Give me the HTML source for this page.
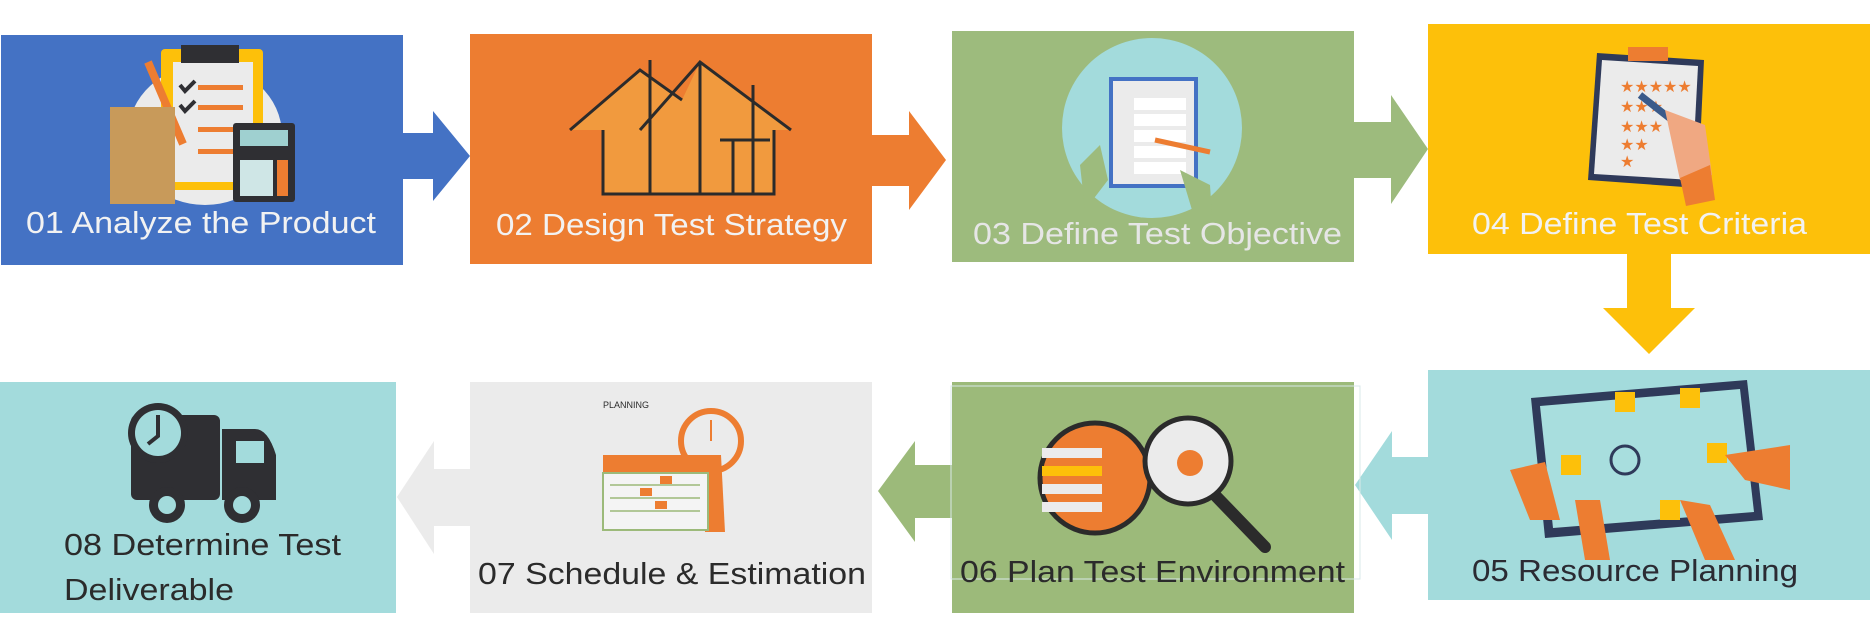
<!DOCTYPE html>
<html><head><meta charset="utf-8"><style>
html,body{margin:0;padding:0;background:#fff;}
svg{display:block;}
text{font-family:"Liberation Sans",sans-serif;font-size:31px;}
</style></head><body>
<svg width="1870" height="634" viewBox="0 0 1870 634">
<!-- arrows -->
<polygon fill="#4472c4" points="403,133 433,133 433,111 470,156 433,201 433,179 403,179"/>
<polygon fill="#ed7d31" points="872,135 909,135 909,111 946,160 909,210 909,186 872,186"/>
<polygon fill="#9dbb7d" points="1354,122 1391,122 1391,95 1428,149 1391,204 1391,178 1354,178"/>
<polygon fill="#fdc00a" points="1627,254 1671,254 1671,308 1695,308 1649,354 1603,308 1627,308"/>
<polygon fill="#a3dbdc" points="1428,457 1392,457 1392,431 1355,485 1392,540 1392,514 1428,514"/>
<polygon fill="#9cba7a" points="952,465 915,465 915,441 878,491 915,542 915,518 952,518"/>
<polygon fill="#ebebeb" points="470,469 434,469 434,441 397,497 434,554 434,526 470,526"/>

<!-- Box 1 -->
<g>
<rect x="1" y="35" width="402" height="230" fill="#4472c4"/>
<ellipse cx="205" cy="135" rx="77" ry="70" fill="#ebebeb"/>
<rect x="161" y="49" width="102" height="141" rx="4" fill="#fdc00a"/>
<rect x="173" y="62" width="80" height="120" fill="#ebebeb"/>
<rect x="181" y="45" width="58" height="18" fill="#2f2f33"/>
<rect x="198" y="85" width="45" height="5" fill="#ed7d31"/><rect x="198" y="105" width="45" height="5" fill="#ed7d31"/>
<rect x="198" y="127" width="45" height="5" fill="#ed7d31"/><rect x="198" y="149" width="45" height="5" fill="#ed7d31"/>
<path d="M180,85 l5,6 l10,-10 M180,105 l5,6 l10,-10" stroke="#2f2f33" stroke-width="4" fill="none"/>
<line x1="148" y1="62" x2="183" y2="144" stroke="#ed7d31" stroke-width="8"/>
<rect x="110" y="107" width="65" height="97" fill="#c89a5a"/>
<rect x="233" y="123" width="62" height="79" rx="3" fill="#2f2f33"/>
<rect x="240" y="130" width="48" height="16" fill="#9fd0d0"/>
<rect x="277" y="160" width="11" height="36" fill="#ed7d31"/>
<rect x="240" y="160" width="33" height="36" fill="#cfe6e6"/>
<text x="26" y="233" fill="#f2f2f2" textLength="350" lengthAdjust="spacingAndGlyphs">01 Analyze the Product</text>
</g>

<!-- Box 2 -->
<g>
<rect x="470" y="34" width="402" height="230" fill="#ed7d31"/>
<polygon points="570,130 640,70 682,100 700,62 791,130 774,130 774,194 603,194 603,130" fill="#f19a3e"/>
<path d="M570,130 L640,70 L682,100 M640,130 L700,62 L791,130 M603,130 V194 H774 V130 M650,60 V194 M700,62 V194 M753,85 V194 M720,140 H770 M733,140 V194" stroke="#2b2b2b" stroke-width="3" fill="none"/>
<text x="496" y="235" fill="#f2f2f2" textLength="351" lengthAdjust="spacingAndGlyphs">02 Design Test Strategy</text>
</g>

<!-- Box 3 -->
<g>
<rect x="952" y="31" width="402" height="231" fill="#9dbb7d"/>
<ellipse cx="1152" cy="128" rx="90" ry="90" fill="#a3dbdc"/>
<rect x="1109" y="77" width="89" height="111" fill="#4472c4"/>
<rect x="1113" y="81" width="81" height="103" fill="#ebebeb"/>
<rect x="1134" y="98" width="52" height="12" fill="#fff"/><rect x="1134" y="114" width="52" height="12" fill="#fff"/>
<rect x="1134" y="130" width="52" height="12" fill="#fff"/><rect x="1134" y="146" width="52" height="12" fill="#fff"/><rect x="1134" y="162" width="52" height="12" fill="#fff"/>
<line x1="1155" y1="140" x2="1210" y2="152" stroke="#ed7d31" stroke-width="5"/>
<polygon points="1080,165 1100,145 1108,180 1085,210" fill="#9dbb7d"/>
<polygon points="1180,170 1210,185 1212,215 1192,210" fill="#9dbb7d"/>
<text x="973" y="244" fill="#e6e6e6" textLength="369" lengthAdjust="spacingAndGlyphs">03 Define Test Objective</text>
</g>

<!-- Box 4 -->
<g>
<rect x="1428" y="24" width="442" height="230" fill="#fdc00a"/>
<polygon points="1597,53 1704,60 1698,188 1588,180" fill="#2f3a5a"/>
<polygon points="1602,60 1698,66 1692,180 1594,174" fill="#ebebeb"/>
<rect x="1628" y="47" width="40" height="14" fill="#ed7d31"/>
<text x="1620" y="92" fill="#ed7d31" style="font-size:16px">★★★★★</text>
<text x="1620" y="112" fill="#ed7d31" style="font-size:16px">★★★</text>
<text x="1620" y="132" fill="#ed7d31" style="font-size:16px">★★★</text>
<text x="1620" y="150" fill="#ed7d31" style="font-size:16px">★★</text>
<text x="1620" y="167" fill="#ed7d31" style="font-size:16px">★</text>
<line x1="1640" y1="95" x2="1700" y2="142" stroke="#3a5a8a" stroke-width="7"/>
<polygon points="1665,110 1705,125 1712,175 1680,180" fill="#f0a882"/>
<polygon points="1680,178 1710,165 1715,200 1686,206" fill="#ed7d31"/>
<text x="1472" y="234" fill="#f2f2f2" textLength="335" lengthAdjust="spacingAndGlyphs">04 Define Test Criteria</text>
</g>

<!-- Box 5 -->
<g>
<rect x="1428" y="370" width="442" height="230" fill="#a3dbdc"/>
<polygon points="1531,398 1747,380 1763,520 1545,538" fill="#2f3a5a"/>
<polygon points="1540,406 1740,389 1754,512 1553,528" fill="#a8dede"/>
<rect x="1615" y="392" width="20" height="20" fill="#fdc00a"/><rect x="1680" y="388" width="20" height="20" fill="#fdc00a"/>
<rect x="1707" y="443" width="20" height="20" fill="#fdc00a"/><rect x="1561" y="455" width="20" height="20" fill="#fdc00a"/>
<rect x="1660" y="500" width="20" height="20" fill="#fdc00a"/>
<circle cx="1625" cy="460" r="14" fill="none" stroke="#2f3a5a" stroke-width="3"/>
<polygon points="1510,470 1545,462 1560,520 1530,520" fill="#ed7d31"/>
<polygon points="1725,455 1790,445 1790,490 1745,480" fill="#ed7d31"/>
<polygon points="1575,500 1600,500 1610,560 1585,560" fill="#ed7d31"/>
<polygon points="1680,500 1710,505 1735,560 1705,560" fill="#ed7d31"/>
<text x="1472" y="581" fill="#2b2b33" textLength="326" lengthAdjust="spacingAndGlyphs">05 Resource Planning</text>
</g>

<!-- Box 6 -->
<g>
<rect x="952" y="382" width="402" height="231" fill="#9cba7a"/>
<rect x="951" y="386" width="409" height="193" fill="none" stroke="#d8e8e8" stroke-width="1"/>
<line x1="1210" y1="490" x2="1265" y2="547" stroke="#2b2b2b" stroke-width="12" stroke-linecap="round"/>
<circle cx="1095" cy="478" r="55" fill="#ed7d31" stroke="#2b2b2b" stroke-width="5"/>
<rect x="1042" y="448" width="60" height="10" fill="#ebebeb"/><rect x="1042" y="466" width="60" height="10" fill="#fdc00a"/>
<rect x="1042" y="484" width="60" height="10" fill="#ebebeb"/><rect x="1042" y="502" width="60" height="10" fill="#ebebeb"/>
<circle cx="1188" cy="461" r="43" fill="#ebebeb" stroke="#2b2b2b" stroke-width="5"/>
<circle cx="1190" cy="463" r="13" fill="#ed7d31"/>
<text x="960" y="582" fill="#2b2b2b" textLength="385" lengthAdjust="spacingAndGlyphs">06 Plan Test Environment</text>
</g>

<!-- Box 7 -->
<g>
<rect x="470" y="382" width="402" height="231" fill="#ebebeb"/>
<text x="603" y="408" fill="#2b2b2b" style="font-size:9px">PLANNING</text>
<circle cx="711" cy="441" r="30" fill="#ebebeb" stroke="#ed7d31" stroke-width="6"/>
<line x1="711" y1="441" x2="711" y2="420" stroke="#ed7d31" stroke-width="2"/>
<polygon points="700,455 721,455 725,532 705,532" fill="#ed7d31"/>
<rect x="603" y="455" width="105" height="18" fill="#ed7d31"/>
<rect x="603" y="473" width="105" height="57" fill="#f4f4f4" stroke="#9cba7a" stroke-width="2"/>
<path d="M610,485 H700 M610,498 H700 M610,511 H700" stroke="#9cba7a" stroke-width="1.5"/>
<rect x="660" y="476" width="12" height="8" fill="#ed7d31"/><rect x="640" y="488" width="12" height="8" fill="#ed7d31"/><rect x="655" y="501" width="12" height="8" fill="#ed7d31"/>
<text x="478" y="584" fill="#2b2b2b" textLength="388" lengthAdjust="spacingAndGlyphs">07 Schedule &amp; Estimation</text>
</g>

<!-- Box 8 -->
<g>
<rect x="0" y="382" width="396" height="231" fill="#a3dbdc"/>
<rect x="131" y="415" width="89" height="85" rx="6" fill="#2f2f33"/>
<path d="M222,429 H255 Q268,429 276,455 V500 H222 Z" fill="#2f2f33"/>
<rect x="236" y="441" width="28" height="22" fill="#a3dbdc"/>
<circle cx="158" cy="433" r="30" fill="#2f2f33"/>
<circle cx="158" cy="433" r="23" fill="#a3dbdc"/>
<path d="M158,415 V436 L148,444" stroke="#2f2f33" stroke-width="4" fill="none"/>
<circle cx="167" cy="505" r="18" fill="#2f2f33"/><circle cx="167" cy="505" r="9" fill="#a3dbdc"/>
<circle cx="242" cy="505" r="18" fill="#2f2f33"/><circle cx="242" cy="505" r="9" fill="#a3dbdc"/>
<text x="64" y="555" fill="#2b2b2b" textLength="277" lengthAdjust="spacingAndGlyphs">08 Determine Test</text>
<text x="64" y="600" fill="#2b2b2b" textLength="170" lengthAdjust="spacingAndGlyphs">Deliverable</text>
</g>
</svg>
</body></html>
